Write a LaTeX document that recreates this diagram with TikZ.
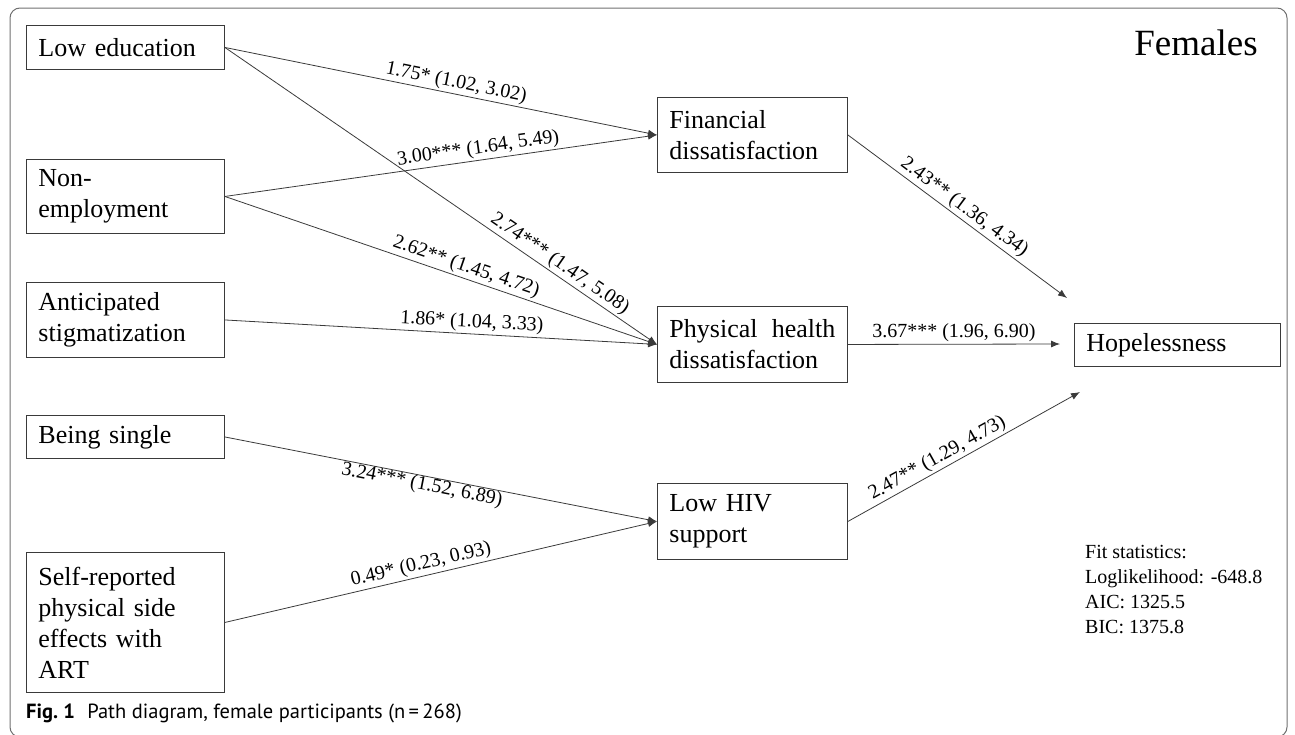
\documentclass[tikz,border=0pt]{standalone}
\usepackage{fontspec}
\setmainfont{Liberation Serif}
\newfontfamily\capfont{PT Sans}
\usetikzlibrary{arrows.meta}
\definecolor{pdline}{HTML}{3A3A3A}
\definecolor{pdframe}{HTML}{707070}

\begin{document}
\begin{tikzpicture}[x=1pt, y=-1pt,
  var/.style={draw=pdline, line width=0.9pt, anchor=north west, align=left,
              inner xsep=12pt, inner ysep=0pt, font=\fontsize{26}{31}\selectfont},
  arr/.style={-{Latex[length=9pt,width=7pt]}, draw=pdline, line width=0.8pt},
  coef/.style={font=\fontsize{20}{24}\selectfont, sloped, inner sep=2pt}
]
  \useasboundingbox (0,0) rectangle (1295,734);
  \draw[pdframe, line width=1pt, rounded corners=10pt] (10,8) rectangle (1287,737);

  %% Predictors
  \node[var, text width=174pt, minimum height=44pt]  (edu) at (26,25)  {Low education};
  \node[var, text width=174pt, minimum height=74pt]  (emp) at (26,159) {Non-\\employment};
  \node[var, text width=174pt, minimum height=75pt]  (sti) at (26,282) {Anticipated\\stigmatization};
  \node[var, text width=174pt, minimum height=43pt]  (sgl) at (26,415) {Being single};
  \node[var, text width=174pt, minimum height=140pt] (sef) at (26,552)
    {Self-reported\\physical side\\effects with\\ART};

  %% Mediators
  \node[var, text width=166pt, minimum height=75pt] (fin) at (657,97)  {Financial\\dissatisfaction};
  \node[var, text width=166pt, minimum height=76pt] (phy) at (657,306) {Physical\hspace{0.55em}health\\dissatisfaction};
  \node[var, text width=166pt, minimum height=76pt] (hiv) at (657,483) {Low HIV\\support};

  %% Outcome
  \node[var, text width=182pt, minimum height=43pt] (hop) at (1074,323) {Hopelessness};
  \coordinate (hopA) at (1067,298);
  \coordinate (hopB) at (1060,344);
  \coordinate (hopC) at (1080,392);

  %% Paths
  \draw[arr] (edu.east) -- node[coef, pos=0.53, above] {1.75* (1.02, 3.02)} (fin.west);
  \draw[arr] (edu.east) -- node[coef, pos=0.76, above] {2.74*** (1.47, 5.08)} (phy.west);
  \draw[arr] (emp.east) -- node[coef, pos=0.59, above] {3.00*** (1.64, 5.49)} (fin.west);
  \draw[arr] (emp.east) -- node[coef, pos=0.55, above] {2.62** (1.45, 4.72)} (phy.west);
  \draw[arr] (sti.east) -- node[coef, pos=0.57, above] {1.86* (1.04, 3.33)} (phy.west);
  \draw[arr] (sgl.east) -- node[coef, pos=0.46, below, inner sep=0pt] {3.24*** (1.52, 6.89)} (hiv.west);
  \draw[arr] (sef.east) -- node[coef, pos=0.46, above] {0.49* (0.23, 0.93)} (hiv.west);
  \draw[arr] (fin.east) -- node[coef, pos=0.5, above] {2.43** (1.36, 4.34)} (hopA);
  \draw[arr] (phy.east) -- node[coef, pos=0.5, above] {3.67*** (1.96, 6.90)} (hopB);
  \draw[arr] (hiv.east) -- node[coef, pos=0.41, above] {2.47** (1.29, 4.73)} (hopC);

  %% Title, fit statistics, caption
  \node[font=\fontsize{37}{40}\selectfont] (ttl) at (1196,43) {Females};
  \node[anchor=north west, align=left, inner sep=0pt, font=\fontsize{20}{25}\selectfont] (fit) at (1085,545)
    {Fit statistics:\\Loglikelihood: -648.8\\AIC: 1325.5\\BIC: 1375.8};
  \node[anchor=west, inner sep=0pt, font=\capfont\fontsize{20.5}{24}\selectfont] (cap) at (26,713)
    {\textbf{Fig.~1}\hspace{0.6em}Path diagram, female participants (n\,=\,268)};
\end{tikzpicture}
\end{document}
